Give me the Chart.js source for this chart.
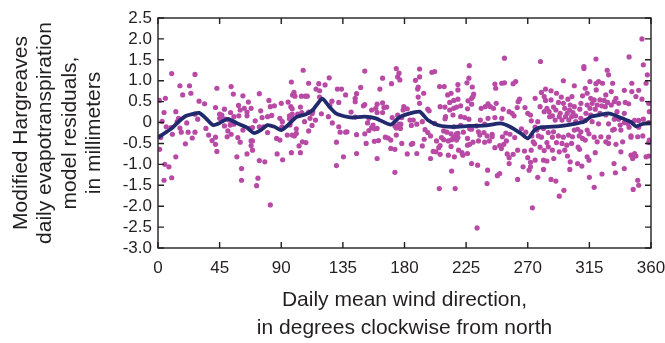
<!DOCTYPE html>
<html>
<head>
<meta charset="utf-8">
<script src="https://cdn.jsdelivr.net/npm/chart.js@4.4.0/dist/chart.umd.min.js"></script>
<style>
  html, body { margin: 0; padding: 0; background: #fff; }
</style>
</head>
<body>
<canvas id="residual-chart" width="665" height="343"></canvas>
<script>
// wind direction (degrees) vs. residual (mm), one array per 45 degree sector
var sector0 = [[1,0.53],[5.4,0.58],[10,1.17],[16,0.88],[23,0.88],[27,1.15],[18,0.66],[24,0.7],[43,0.82],[30,0.51],[34,0.45],[42,0.36],[4.4,0.24],[13,0.26],[3,0.03],[15,0.1],[14,0.02],[27,0.2],[29,0.08],[45,0.2],[45,0.1],[6,-0.1],[9.5,-0.12],[16,-0.13],[10.5,-0.28],[17,-0.23],[21,-0.01],[22,-0.23],[27,-0.23],[25,-0.37],[20,-0.51],[35,-0.14],[37,-0.3],[39.5,-0.43],[42,-0.35],[42,-0.52],[43,-0.69],[1.7,-0.33],[1.2,-0.64],[13,-0.82],[5,-1.0],[8,-1.06],[4.4,-1.38],[10,-1.32],[2,-0.36]];
var sector1 = [[53.4,0.86],[55,0.68],[62,0.64],[74,0.69],[66,0.49],[81,0.53],[90,0.46],[58.8,0.41],[63,0.34],[68,0.34],[65,0.25],[65,0.16],[75,0.28],[82,0.38],[85,0.4],[80,0.14],[83,0.17],[76,0.12],[71,0.04],[60,0.3],[59,0.16],[55.4,0.14],[53,0.24],[48.5,0.32],[46.6,0.18],[47,0.1],[49,0.08],[52,0.06],[54,0.02],[55.4,-0.04],[48.5,-0.08],[52.7,-0.06],[51,-0.2],[53.4,-0.28],[50.5,-0.34],[62,-0.18],[67,-0.14],[69,-0.12],[74,-0.1],[77,-0.1],[80,-0.24],[86.6,-0.38],[89,-0.42],[90.5,-0.1],[58.3,-0.36],[60,-0.47],[68,-0.44],[69,-0.44],[68,-0.55],[69,-0.66],[65,-0.75],[57.6,-0.82],[87,-0.75],[91,-0.89],[74,-0.91],[78,-0.94],[61,-1.1],[61,-1.38],[73,-1.33],[72,-1.51],[82,-1.97]];
var sector2 = [[106,1.25],[97.4,0.97],[110,0.94],[117.4,0.93],[122,0.9],[125,1.07],[115.4,0.8],[118,0.76],[99.3,0.72],[98.3,0.66],[100,0.63],[104.7,0.63],[107.6,0.63],[109,0.63],[118,0.61],[131,0.8],[134,0.8],[137,0.66],[95,0.49],[97,0.38],[98,0.33],[104,0.37],[127,0.51],[125.5,0.41],[132,0.48],[110,0.25],[112.5,0.21],[113,0.26],[105,0.24],[102,0.2],[98,0.2],[96,0.16],[119.3,0.21],[124.4,0.14],[89,0.1],[90.8,0.02],[96,0.09],[98,0.1],[111,0.1],[115,0.06],[107,0.02],[127.3,-0.01],[96.4,-0.06],[101,-0.15],[112.5,-0.07],[110,-0.2],[132,-0.1],[133,-0.23],[137,-0.23],[94.4,-0.3],[98,-0.3],[99.6,-0.32],[101,-0.26],[105.4,-0.46],[108,-0.48],[103,-0.56],[130.3,-0.47],[97.4,-0.72],[104,-0.72],[135.4,-0.82],[130.3,-1.03]];
var sector3 = [[151,1.23],[174,1.29],[176,1.18],[175,1.09],[176.6,1.02],[164,1.06],[170.5,0.93],[148,0.84],[162,0.8],[145,0.69],[144,0.58],[144,0.5],[150,0.4],[151,0.43],[160,0.44],[164,0.47],[165,0.36],[167,0.37],[159,0.34],[156,0.3],[160,0.24],[164,0.24],[141,0.25],[179.5,0.38],[179,0.3],[182,0.33],[144,0.13],[154,0.1],[171,0.12],[175,0.18],[178,0.12],[153,-0.01],[157,-0.06],[156,-0.12],[154,-0.19],[151,-0.27],[158,-0.15],[160,-0.14],[173,-0.08],[176,-0.04],[177.3,-0.04],[177,-0.14],[174,-0.13],[138,-0.22],[145,-0.29],[174,-0.3],[166,-0.35],[168,-0.37],[170,-0.42],[158,-0.45],[161,-0.43],[152,-0.5],[178,-0.5],[170,-0.62],[173,-0.64],[145,-0.74],[182,-0.75],[160,-0.86],[173,-1.19]];
var sector4 = [[191,1.28],[200,1.2],[202,1.22],[191,1.09],[188,1.01],[190,0.85],[189.6,0.8],[205.6,0.86],[209,0.86],[194,0.7],[190,0.61],[219,0.91],[219,0.78],[211.5,0.66],[214,0.7],[225.6,0.95],[227.3,1.36],[227,1.06],[191,0.46],[206,0.38],[209.5,0.37],[213,0.48],[216,0.53],[219,0.56],[215.9,0.34],[218,0.37],[221,0.4],[213,0.3],[226,0.33],[197,0.32],[198,0.28],[210,0.14],[209.6,0.09],[215.4,0.18],[221,0.14],[224,0.12],[227,0.08],[184,0.06],[186.4,0.06],[185,-0.07],[189,-0.04],[193,0.02],[202,-0.02],[216,-0.1],[221,-0.07],[195,-0.17],[197,-0.24],[199,-0.32],[208.6,-0.2],[211,-0.23],[214,-0.27],[218,-0.27],[219,-0.26],[216,-0.34],[219,-0.36],[223,-0.23],[226,-0.38],[207,-0.36],[208.6,-0.41],[212,-0.44],[214.4,-0.41],[218,-0.42],[203.4,-0.44],[194.4,-0.4],[185,-0.52],[186,-0.5],[193,-0.56],[206,-0.55],[205,-0.6],[214,-0.57],[219.5,-0.66],[222,-0.72],[222.6,-0.78],[226,-0.74],[226,-0.54],[201,-0.69],[203,-0.7],[206,-0.76],[212,-0.78],[216.4,-0.82],[199,-0.86],[189,-0.74],[214.4,-1.16],[205.4,-1.58],[217,-1.58]];
var sector5 = [[253,1.54],[229.5,0.85],[230.5,0.68],[229,0.58],[230,0.62],[246.6,0.82],[246,0.92],[251,0.94],[253,0.95],[259.3,0.93],[261.2,0.98],[264,0.56],[263,0.5],[226.4,0.52],[229,0.44],[236,0.34],[239,0.38],[241,0.45],[242.7,0.38],[247,0.46],[245,0.34],[252,0.32],[256.4,0.26],[258.6,0.22],[260,0.16],[262.3,0.36],[268,0.36],[270,0.22],[272,0.18],[272.6,0.04],[251,0.1],[246,0.12],[241,0.1],[235.4,0.06],[232.5,-0.08],[238.5,-0.04],[227.6,-0.15],[229,-0.16],[234,-0.22],[235,-0.3],[238,-0.24],[240.3,-0.32],[244,-0.28],[244,-0.34],[251.5,-0.34],[254,-0.25],[257,-0.28],[260.5,-0.36],[265.4,-0.15],[268.6,-0.23],[227.6,-0.52],[230,-0.47],[234,-0.44],[238.5,-0.47],[242,-0.44],[246,-0.6],[249.5,-0.55],[252.5,-0.52],[254.4,-0.44],[250.7,-0.62],[255,-0.75],[259.3,-0.76],[256.4,-0.84],[256.4,-0.98],[262.6,-0.66],[267.6,-0.68],[270,-0.84],[272,-0.95],[271,-1.14],[266.6,-1.06],[272,-1.06],[229,-0.98],[233.4,-1.02],[240.7,-1.14],[247.8,-1.27],[249.5,-1.22],[240.3,-1.46],[262.6,-1.36],[273.4,-2.04],[233,-2.52]];
var sector6 = [[279.3,1.46],[296,1.0],[304,0.88],[275.4,0.58],[280,0.72],[282,0.62],[283,0.8],[287,0.76],[283,0.53],[287,0.54],[291,0.7],[294.5,0.61],[296,0.46],[299.3,0.56],[301,0.42],[302.3,0.62],[292.4,0.48],[279,0.38],[284,0.34],[285.6,0.26],[288.8,0.37],[290.5,0.3],[293.7,0.22],[297,0.34],[298.8,0.22],[300.5,0.3],[303,0.24],[302,0.14],[297.6,0.14],[293,0.14],[288,0.16],[282,0.26],[286,0.14],[290,0.06],[295,0.06],[300,0.06],[277.3,0.02],[275.4,-0.11],[276.6,-0.18],[281.5,-0.14],[285,-0.24],[288.8,-0.22],[273,-0.32],[277.8,-0.32],[280,-0.35],[288,-0.35],[292.4,-0.32],[296,-0.35],[299.8,-0.3],[302.7,-0.34],[274,-0.46],[275,-0.51],[284,-0.48],[291,-0.48],[295,-0.5],[298.5,-0.54],[302,-0.5],[272.5,-0.66],[279,-0.59],[282,-0.67],[285,-0.58],[288,-0.66],[293,-0.7],[297,-0.66],[299,-0.8],[275.4,-0.9],[281.5,-0.9],[284,-0.92],[289,-0.86],[301,-0.94],[281.5,-1.12],[300.7,-1.12],[277.3,-1.31],[287,-1.36],[290.5,-1.4],[296.4,-1.62],[293,-1.76],
  [311,1.34],[311,1.29],[312,0.82],[313.4,0.7],[310,0.64],[308.8,0.46],[313.4,0.42],[304,0.38],[308,0.32],[312.5,0.22],[305,0.16],[308.8,0.1],[305,0.02],[312,0.05],[304,-0.18],[306.4,-0.16],[308.8,-0.22],[313.4,-0.18],[314.7,-0.27],[307.6,-0.32],[310,-0.38],[312,-0.42],[306.8,-0.59],[307.8,-0.64],[313.4,-0.82],[314.7,-0.9],[306.4,-0.98],[309.5,-1.04]];
var sector7 = [[319.8,1.52],[328,1.25],[329,1.14],[321.7,0.98],[324.6,0.94],[332,0.94],[315.4,0.98],[319.8,0.93],[320,0.78],[327,0.66],[331,0.74],[316,0.58],[318.5,0.54],[322.7,0.54],[325.8,0.53],[328.3,0.48],[317,0.46],[320.7,0.42],[324,0.4],[326.6,0.38],[331,0.42],[315.4,0.34],[319.3,0.32],[316,0.18],[322.7,0.22],[327,0.18],[317,0.02],[321.7,-0.03],[329,-0.03],[318.5,-0.35],[323.4,-0.34],[329,-0.35],[332,-0.18],[320.7,-0.46],[327,-0.46],[329,-0.5],[319.3,-0.72],[333,-0.98],[324.2,-1.23],[315,-1.31],[318.5,-1.55],
  [353.4,2.0],[344,1.57],[354.4,1.38],[357.3,1.14],[356.4,0.94],[346,0.94],[340.5,0.77],[346,0.74],[351,0.77],[349,0.62],[353.4,0.56],[334.4,0.58],[336.4,0.46],[341.2,0.48],[343.7,0.45],[358.3,0.46],[333.2,0.5],[335.2,0.26],[340.5,0.22],[358.8,0.26],[333.2,0.08],[336.4,0.08],[340.5,0],[343,-0.02],[348,0.05],[351,0.05],[354.4,0.08],[358.3,0],[337.5,-0.06],[333.2,-0.16],[338,-0.18],[344,-0.11],[351,-0.11],[334.4,-0.52],[339.3,-0.46],[345.4,-0.32],[345.4,-0.35],[350.3,-0.34],[354,-0.32],[358.8,-0.42],[358.3,-0.48],[338,-0.7],[345.4,-0.78],[346.6,-0.86],[348,-0.74],[349,-0.8],[356.4,-0.82],[358.3,-0.8],[340.5,-1.1],[334,-1.2],[350.3,-1.38],[351,-1.5],[347,-1.6]];

// smoothed trend line
var trendDir = [0,5,10,15,20,25,30,35,40,45,51,58,65,70,75,80,85,90,95,101,108,113,120,125,130,136,142,151,159,170,176,182,191,197,204,211,219,227,233,240,250,257,265,270,275,280,288,295,304,311,316,322,329,334,339,345,349,354,360];
var trendVal = [-0.36,-0.25,-0.14,0.02,0.15,0.2,0.23,0.1,-0.06,-0.01,0.09,-0.02,-0.12,-0.25,-0.18,-0.06,-0.1,-0.18,-0.06,0.13,0.2,0.3,0.57,0.38,0.22,0.15,0.12,0.14,0.1,-0.05,0.12,0.2,0.26,0.06,-0.06,-0.1,-0.1,-0.08,-0.08,-0.07,-0.02,-0.1,-0.26,-0.38,-0.18,-0.11,-0.1,-0.08,-0.03,0.02,0.14,0.18,0.22,0.17,0.1,0.02,-0.09,-0.03,-0.02];

var xTickValues = [0,45,90,135,180,225,270,315,360];
var yTickValues = [-3,-2.5,-2,-1.5,-1,-0.5,0,0.5,1,1.5,2,2.5];
var yTickLabels = ['-3.0','-2.5','-2.0','-1.5','-1.0','-0.5','0','0.5','1.0','1.5','2.0','2.5'];

var textColor = '#231f20';
var fontFamily = "'Liberation Sans', Arial, sans-serif";

var scatterPts = [].concat(sector0, sector1, sector2, sector3, sector4, sector5, sector6, sector7)
  .map(function (p) { return {x: p[0], y: p[1]}; });
var trendPts = trendDir.map(function (d, i) { return {x: d, y: trendVal[i]}; });

// box around the plot with inward ticks on all four sides
var frameTicks = {
  id: 'frameTicks',
  afterDatasetsDraw: function (chart) {
    var ctx = chart.ctx, a = chart.chartArea;
    var xs = chart.scales.x, ys = chart.scales.y;
    var len = 6;
    ctx.save();
    ctx.strokeStyle = textColor;
    ctx.lineWidth = 1.4;
    ctx.strokeRect(a.left, a.top, a.right - a.left, a.bottom - a.top);
    ctx.beginPath();
    xTickValues.forEach(function (v) {
      var px = xs.getPixelForValue(v);
      ctx.moveTo(px, a.bottom); ctx.lineTo(px, a.bottom - len);
      ctx.moveTo(px, a.top); ctx.lineTo(px, a.top + len);
    });
    yTickValues.forEach(function (v) {
      var py = ys.getPixelForValue(v);
      ctx.moveTo(a.left, py); ctx.lineTo(a.left + len, py);
      ctx.moveTo(a.right, py); ctx.lineTo(a.right - len, py);
    });
    ctx.stroke();
    ctx.restore();
  }
};

var ctx = document.getElementById('residual-chart').getContext('2d');
var myChart = new Chart(ctx, {
  type: 'scatter',
  data: {
    datasets: [{
      type: 'line',
      label: 'Trend',
      data: trendPts,
      borderColor: '#222a6e',
      borderWidth: 3.8,
      pointRadius: 0,
      tension: 0.2,
      fill: false
    }, {
      label: 'Residuals',
      data: scatterPts,
      backgroundColor: '#b84aa6',
      borderWidth: 0,
      pointRadius: 2.6
    }]
  },
  options: {
    responsive: false,
    animation: false,
    layout: { padding: { top: 18, right: 14, left: 0, bottom: 0 } },
    plugins: { legend: { display: false }, tooltip: { enabled: false } },
    scales: {
      x: {
        type: 'linear',
        min: 0,
        max: 360,
        afterBuildTicks: function (s) { s.ticks = xTickValues.map(function (v) { return {value: v}; }); },
        afterFit: function (s) { s.height = 95; s.paddingLeft = 0; s.paddingRight = 0; },
        grid: { display: false, drawTicks: false },
        border: { display: false },
        ticks: { autoSkip: false, maxRotation: 0, padding: 10, color: textColor, font: { family: fontFamily, size: 17 } },
        title: {
          display: true,
          text: ['Daily mean wind direction,', 'in degrees clockwise from north'],
          color: textColor,
          font: { family: fontFamily, size: 21, lineHeight: 1.333 },
          padding: { top: 0, bottom: 1 }
        }
      },
      y: {
        min: -3,
        max: 2.5,
        afterBuildTicks: function (s) { s.ticks = yTickValues.map(function (v) { return {value: v}; }); },
        afterFit: function (s) { s.width = 158; s.paddingTop = 0; s.paddingBottom = 0; },
        grid: { display: false, drawTicks: false },
        border: { display: false },
        ticks: {
          autoSkip: false,
          padding: 6,
          color: textColor,
          font: { family: fontFamily, size: 17 },
          callback: function (v, i) { return yTickLabels[i]; }
        },
        title: {
          display: true,
          text: ['Modified Hargreaves', 'daily evapotranspiration', 'model residuals,', 'in millimeters'],
          color: textColor,
          font: { family: fontFamily, size: 21, lineHeight: 1.157 },
          padding: { top: 9, bottom: 0 }
        }
      }
    }
  },
  plugins: [frameTicks]
});
</script>
</body>
</html>
